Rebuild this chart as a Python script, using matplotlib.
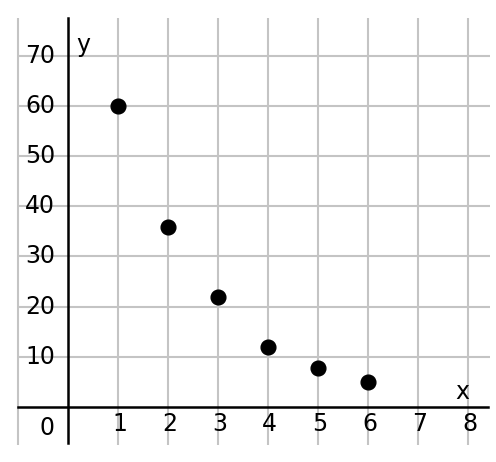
import matplotlib.pyplot as plt

# data
x_vals = [1, 2, 3, 4, 5, 6]
y_vals = [60, 35.8, 22, 12, 7.7, 4.9]

x_ticks = [1, 2, 3, 4, 5, 6, 7, 8]
y_ticks = [10, 20, 30, 40, 50, 60, 70]
x_grid = [-1, 1, 2, 3, 4, 5, 6, 7, 8]
y_grid = [10, 20, 30, 40, 50, 60, 70]

plt.rcParams['font.family'] = ['DejaVu Sans']

fig = plt.figure(figsize=(4.96, 4.62), dpi=100)
ax = fig.add_axes([0, 0, 1, 1])
ax.set_xlim(-1.36, 8.56)
ax.set_ylim(-10.96, 81.07)
ax.axis('off')

grid_col = '#c4c4c4'
ax.vlines(x_grid, -7.6, 77.5, colors=grid_col, linewidth=1.5, zorder=1)
ax.hlines(y_grid, -1, 8.44, colors=grid_col, linewidth=1.5, zorder=1)

# axes
ax.plot([-1, 8.4], [0, 0], color='black', linewidth=1.8, zorder=2)
ax.plot([0, 0], [-7.2, 77.5], color='black', linewidth=1.8, zorder=2)

fs = 17
# tick labels
for t in y_ticks:
    ax.text(-0.26, t, str(t), ha='right', va='center', fontsize=fs, zorder=3)
for t in x_ticks:
    ax.text(t + 0.03, -3.3, str(t), ha='center', va='center', fontsize=fs, zorder=3)
ax.text(-0.28, -4.2, '0', ha='right', va='center', fontsize=fs, zorder=3)

ax.text(7.88, 3.0, 'x', ha='center', va='center', fontsize=fs)
ax.text(0.3, 72.2, 'y', ha='center', va='center', fontsize=fs)

ax.plot(x_vals, y_vals, 'o', color='black', markersize=10.6, zorder=4)

fig.savefig('out.png', dpi=100)
